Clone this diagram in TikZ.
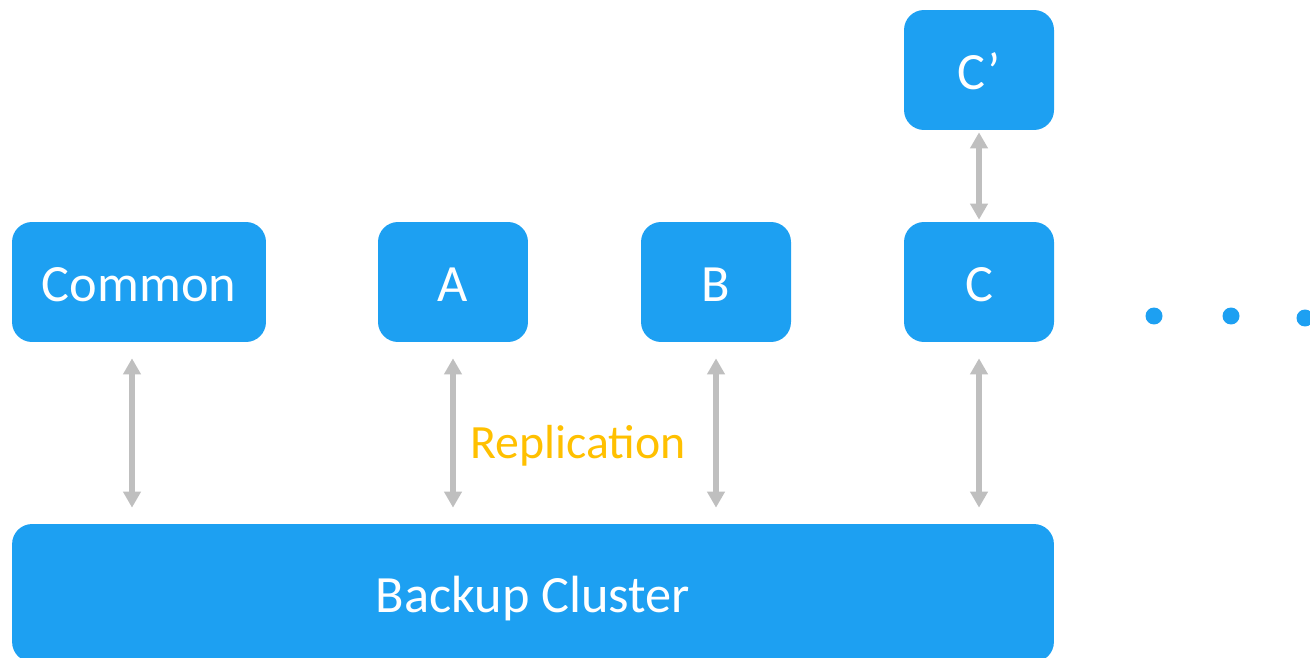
\documentclass[tikz,border=0pt]{standalone}
\usepackage{fontspec}
\setmainfont{Carlito}
\usetikzlibrary{arrows.meta}
\definecolor{boxblue}{RGB}{29,160,242}
\definecolor{arrgray}{RGB}{191,191,191}
\definecolor{reporange}{RGB}{255,192,0}
\begin{document}
\begin{tikzpicture}[x=0.02cm,y=-0.02cm,
  box/.style={fill=boxblue, rounded corners=0.4cm, text=white,
    font=\fontsize{29.8}{34}\selectfont, minimum height=2.4cm,
    minimum width=3cm, text height=22.4pt, text depth=0pt, inner sep=0pt},
  rep/.style={draw=arrgray, line width=0.12cm,
    {Triangle[length=0.32cm,width=0.34cm]}-{Triangle[length=0.32cm,width=0.34cm]}},
  gap/.style={shorten <=0.32cm, shorten >=0.32cm},
  dot/.style={fill=boxblue}
]
\useasboundingbox (0,0) rectangle (1310,658);

\node[box, minimum width=5.08cm] (common) at (139,282) {Common};
\node[box] (a) at (453,282) {A};
\node[box] (b) at (716,282) {B};
\node[box] (c) at (979,282) {C};
\node[box] (cp) at (979,70) {C’};
\node[box, minimum width=20.84cm, minimum height=2.76cm] (bc) at (533,593) {Backup Cluster};

\draw[rep, gap] ([xshift=-0.14cm]common.south) -- ([xshift=-0.14cm]common.south |- bc.north);
\draw[rep, gap] (a.south) -- (a.south |- bc.north);
\draw[rep, gap] (b.south) -- (b.south |- bc.north);
\draw[rep, gap] (c.south) -- (c.south |- bc.north);
\draw[rep, shorten <=0.04cm, shorten >=0.04cm] (cp.south) -- (c.north);

\node[anchor=base west, text=reporange, inner sep=0pt,
  font=\fontsize{27.2}{30}\selectfont] (replabel) at (470,458) {Replication};

\fill[dot] (1154,316) circle (0.17cm);
\fill[dot] (1231,316) circle (0.17cm);
\fill[dot] (1305,318) circle (0.17cm);
\end{tikzpicture}
\end{document}
